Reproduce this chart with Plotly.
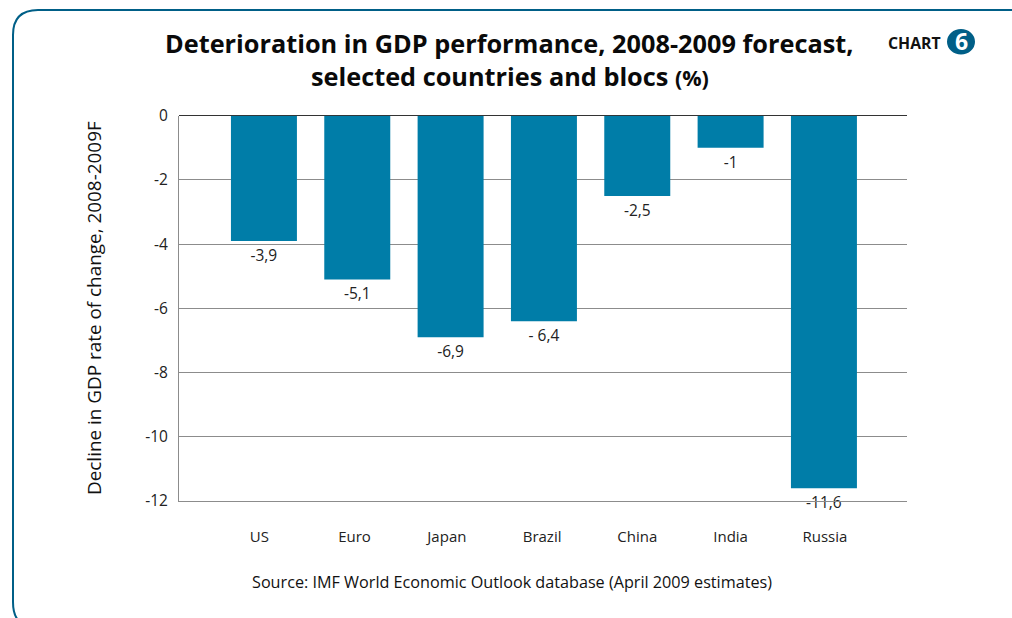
import plotly.graph_objects as go

WIDTH, HEIGHT = 1012, 618

categories = ["US", "Euro", "Japan", "Brazil", "China", "India", "Russia"]
decline = [-3.9, -5.1, -6.9, -6.4, -2.5, -1, -11.6]
value_labels = ["-3,9", "-5,1", "-6,9", "- 6,4", "-2,5", "-1", "-11,6"]
y_ticks = [0, -2, -4, -6, -8, -10, -12]

BLUE = "#007da8"
FRAME = "#005f87"
FONT = "Open Sans, Noto Sans, sans-serif"

# Category labels sit slightly off their bar centres, in category units
TICK_NUDGE = [-0.05, -0.03, -0.04, -0.02, 0, 0, 0.01]


def px(x):
    return x / WIDTH


def py(y):
    return 1 - y / HEIGHT


def frame_path():
    # Rounded panel outline that runs off the right and bottom edges of the page
    pts = [(1012, 10), (38, 10), (13, 10), (13, 35), (13, 602), (13, 614), (18, 620)]
    p = [(px(a), py(b)) for a, b in pts]
    return (
        f"M {p[0][0]} {p[0][1]} L {p[1][0]} {p[1][1]} "
        f"Q {p[2][0]} {p[2][1]} {p[3][0]} {p[3][1]} "
        f"L {p[4][0]} {p[4][1]} Q {p[5][0]} {p[5][1]} {p[6][0]} {p[6][1]}"
    )


def label(text, x, y, size, color="#111111", bold=False, angle=0):
    return dict(
        text=text, x=px(x), y=py(y), xref="paper", yref="paper",
        xanchor="center", yanchor="middle", showarrow=False, textangle=angle,
        font=dict(family=FONT, size=size, color=color, weight="bold" if bold else "normal"),
    )


fig = go.Figure(
    go.Bar(
        x=list(range(len(categories))),
        y=decline,
        width=0.707,
        marker=dict(color=BLUE, line_width=0),
        text=value_labels,
        textposition="outside",
        textangle=0,
        cliponaxis=False,
        constraintext="none",
        textfont=dict(family=FONT, size=15.5, color="#222222"),
        hoverinfo="skip",
    )
)

fig.update_layout(
    width=WIDTH,
    height=HEIGHT,
    autosize=False,
    margin=dict(l=0, r=0, t=0, b=0),
    paper_bgcolor="white",
    plot_bgcolor="white",
    showlegend=False,
    font=dict(family=FONT, size=15, color="#222222"),
    xaxis=dict(
        domain=[px(179), px(907)],
        range=[-0.91, 6.89],
        automargin=False,
        tickmode="array",
        tickvals=[i + n for i, n in enumerate(TICK_NUDGE)],
        ticktext=categories,
        showgrid=False,
        zeroline=False,
        showline=True,
        linecolor="#8c8c8c",
        linewidth=1,
        ticks="outside",
        ticklen=22,
        tickcolor="rgba(0,0,0,0)",
        tickfont=dict(family=FONT, size=15, color="#222222"),
    ),
    yaxis=dict(
        domain=[py(501), py(115.7)],
        range=[-12, 0],
        automargin=False,
        tickmode="array",
        tickvals=y_ticks,
        ticktext=[str(v) for v in y_ticks],
        showgrid=True,
        gridcolor="#8c8c8c",
        gridwidth=1,
        zeroline=True,
        zerolinecolor="#333333",
        zerolinewidth=1,
        showline=True,
        linecolor="#8c8c8c",
        linewidth=1,
        ticks="",
        ticklabelstandoff=7,
        tickfont=dict(family=FONT, size=15.5, color="#222222"),
    ),
    shapes=[
        dict(type="path", xref="paper", yref="paper", path=frame_path(),
             line=dict(color=FRAME, width=2)),
        dict(type="circle", xref="paper", yref="paper", fillcolor=FRAME,
             line_width=0, x0=px(947), x1=px(975), y0=py(54.5), y1=py(29)),
    ],
    annotations=[
        label("Deterioration in GDP performance, 2008-2009 forecast,", 509, 43.5, 25.3,
              color="#0a0a0a", bold=True),
        label('selected countries and blocs <span style="font-size:21.5px">(%)</span>',
              509.5, 76, 25.3, color="#0a0a0a", bold=True),
        label("CHART", 914.5, 43, 15.8, bold=True),
        label("6", 961, 41, 23, color="white", bold=True),
        label("Decline in GDP rate of change, 2008-2009F", 94, 308, 18.9, angle=-90),
        label("Source: IMF World Economic Outlook database (April 2009 estimates)",
              512, 582, 16.2),
    ],
)

fig.write_html("out.html")
